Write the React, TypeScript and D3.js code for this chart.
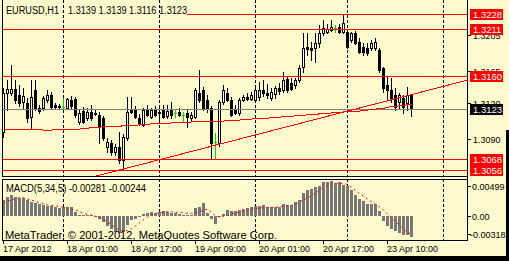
import React from "react";
import * as d3 from "d3";

// ---------- DATA ----------
const symbolTitle = "EURUSD,H1";
const lastQuote = ["1.3139", "1.3139", "1.3116", "1.3123"];

const opens = [
  1.3098, 1.3141, 1.3141, 1.3145, 1.3139, 1.3131, 1.3130, 1.3114, 1.3144, 1.3124,
  1.3124, 1.3133, 1.3139, 1.3128, 1.3125, 1.3125, 1.3124, 1.3133, 1.3134, 1.3109,
  1.3121, 1.3113, 1.3120, 1.3119, 1.3117, 1.3113, 1.3081, 1.3086, 1.3076, 1.3081,
  1.3067, 1.3091, 1.3122, 1.3122, 1.3113, 1.3106, 1.3123, 1.3114, 1.3122, 1.3119,
  1.3122, 1.3116, 1.3122, 1.3119, 1.3120, 1.3117, 1.3119, 1.3113, 1.3114, 1.3141,
  1.3144, 1.3133, 1.3124, 1.3087, 1.3086, 1.3131, 1.3141, 1.3133, 1.3122, 1.3119,
  1.3133, 1.3136, 1.3134, 1.3133, 1.3136, 1.3144, 1.3141, 1.3135, 1.3140, 1.3146,
  1.3144, 1.3156, 1.3152, 1.3150, 1.3155, 1.3170, 1.3192, 1.3191, 1.3191, 1.3196,
  1.3207, 1.3208, 1.3210, 1.3213, 1.3214, 1.3208, 1.3208, 1.3199, 1.3207, 1.3197,
  1.3192, 1.3191, 1.3191, 1.3191, 1.3188, 1.3168, 1.3150, 1.3144, 1.3139, 1.3131,
  1.3135, 1.3130, 1.3139,
];
const highs = [
  1.3146, 1.3155, 1.3172, 1.3155, 1.3150, 1.3146, 1.3135, 1.3155, 1.3155, 1.3128,
  1.3138, 1.3144, 1.3142, 1.3130, 1.3129, 1.3135, 1.3135, 1.3138, 1.3136, 1.3122,
  1.3125, 1.3124, 1.3128, 1.3122, 1.3120, 1.3116, 1.3091, 1.3089, 1.3085, 1.3098,
  1.3096, 1.3136, 1.3136, 1.3127, 1.3118, 1.3124, 1.3128, 1.3124, 1.3127, 1.3124,
  1.3128, 1.3128, 1.3131, 1.3123, 1.3124, 1.3120, 1.3122, 1.3120, 1.3146, 1.3166,
  1.3148, 1.3139, 1.3127, 1.3097, 1.3133, 1.3150, 1.3146, 1.3136, 1.3128, 1.3135,
  1.3139, 1.3141, 1.3142, 1.3150, 1.3153, 1.3155, 1.3151, 1.3146, 1.3149, 1.3152,
  1.3164, 1.3160, 1.3157, 1.3157, 1.3172, 1.3207, 1.3207, 1.3197, 1.3207, 1.3216,
  1.3221, 1.3217, 1.3221, 1.3216, 1.3217, 1.3228, 1.3210, 1.3208, 1.3209, 1.3202,
  1.3196, 1.3196, 1.3199, 1.3202, 1.3191, 1.3170, 1.3159, 1.3157, 1.3146, 1.3141,
  1.3139, 1.3148, 1.3139,
];
const lows = [
  1.3092, 1.3122, 1.3139, 1.3130, 1.3127, 1.3124, 1.3109, 1.3102, 1.3122, 1.3119,
  1.3122, 1.3131, 1.3124, 1.3123, 1.3124, 1.3123, 1.3123, 1.3124, 1.3114, 1.3107,
  1.3108, 1.3111, 1.3111, 1.3117, 1.3086, 1.3089, 1.3076, 1.3073, 1.3073, 1.3064,
  1.3057, 1.3089, 1.3119, 1.3113, 1.3106, 1.3104, 1.3116, 1.3113, 1.3116, 1.3108,
  1.3113, 1.3113, 1.3113, 1.3114, 1.3116, 1.3109, 1.3103, 1.3111, 1.3113, 1.3131,
  1.3122, 1.3120, 1.3068, 1.3069, 1.3082, 1.3129, 1.3132, 1.3116, 1.3118, 1.3117,
  1.3132, 1.3133, 1.3133, 1.3131, 1.3133, 1.3138, 1.3135, 1.3133, 1.3135, 1.3140,
  1.3142, 1.3142, 1.3144, 1.3146, 1.3153, 1.3164, 1.3183, 1.3177, 1.3175, 1.3192,
  1.3205, 1.3207, 1.3209, 1.3208, 1.3207, 1.3207, 1.3191, 1.3197, 1.3195, 1.3185,
  1.3183, 1.3183, 1.3188, 1.3188, 1.3164, 1.3142, 1.3133, 1.3131, 1.3122, 1.3124,
  1.3119, 1.3122, 1.3116,
];
const closes = [
  1.3141, 1.3145, 1.3145, 1.3133, 1.3130, 1.3138, 1.3113, 1.3136, 1.3124, 1.3121,
  1.3135, 1.3139, 1.3125, 1.3125, 1.3127, 1.3125, 1.3134, 1.3127, 1.3117, 1.3119,
  1.3109, 1.3120, 1.3113, 1.3118, 1.3103, 1.3091, 1.3087, 1.3076, 1.3081, 1.3067,
  1.3092, 1.3120, 1.3120, 1.3114, 1.3108, 1.3122, 1.3117, 1.3122, 1.3117, 1.3120,
  1.3114, 1.3121, 1.3117, 1.3119, 1.3117, 1.3117, 1.3114, 1.3117, 1.3144, 1.3133,
  1.3124, 1.3124, 1.3086, 1.3087, 1.3131, 1.3144, 1.3133, 1.3117, 1.3119, 1.3133,
  1.3136, 1.3134, 1.3139, 1.3144, 1.3144, 1.3141, 1.3139, 1.3142, 1.3146, 1.3143,
  1.3155, 1.3144, 1.3145, 1.3155, 1.3168, 1.3191, 1.3189, 1.3188, 1.3196, 1.3207,
  1.3213, 1.3211, 1.3214, 1.3213, 1.3208, 1.3218, 1.3192, 1.3207, 1.3196, 1.3186,
  1.3186, 1.3185, 1.3196, 1.3197, 1.3166, 1.3146, 1.3144, 1.3135, 1.3125, 1.3139,
  1.3125, 1.3139, 1.3123,
];

// red moving average line (price)
const movingAverage = [
  1.3101, 1.3101, 1.3101, 1.3101, 1.3101, 1.3101, 1.3101, 1.3101, 1.3101, 1.3101,
  1.3100, 1.3100, 1.3100, 1.3101, 1.3101, 1.3101, 1.3101, 1.3101, 1.3101, 1.3101,
  1.3102, 1.3102, 1.3103, 1.3103, 1.3103, 1.3104, 1.3104, 1.3104, 1.3104, 1.3104,
  1.3105, 1.3105, 1.3105, 1.3105, 1.3106, 1.3106, 1.3106, 1.3107, 1.3107, 1.3107,
  1.3107, 1.3107, 1.3108, 1.3108, 1.3108, 1.3108, 1.3108, 1.3109, 1.3109, 1.3109,
  1.3109, 1.3109, 1.3110, 1.3110, 1.3110, 1.3110, 1.3111, 1.3111, 1.3111, 1.3111,
  1.3112, 1.3112, 1.3112, 1.3113, 1.3113, 1.3113, 1.3113, 1.3114, 1.3114, 1.3114,
  1.3115, 1.3115, 1.3115, 1.3116, 1.3116, 1.3116, 1.3117, 1.3117, 1.3117, 1.3118,
  1.3118, 1.3118, 1.3119, 1.3119, 1.3119, 1.3120, 1.3120, 1.3121, 1.3121, 1.3121,
  1.3122, 1.3122, 1.3123, 1.3123, 1.3124, 1.3124, 1.3125, 1.3126, 1.3126, 1.3127,
  1.3127, 1.3128, 1.3128,
];

// MACD(5,34,5), in units of 0.001
const macdMain = [
  2.18, 2.64, 2.86, 2.64, 2.41, 2.5, 2.18, 1.86, 1.73, 1.59,
  1.5, 1.41, 1.41, 1.27, 1.14, 1.27, 1.18, 1.18, 0.59, 0.23,
  0.23, 0.14, 0.14, -0.09, -0.32, -0.77, -1.32, -1.68, -2.05, -2.23,
  -2.14, -1.14, -0.55, -0.41, -0.09, 0.36, 0.45, 0.59, 0.5, 0.59,
  0.68, 0.6, 0.5, 0.5, 0.36, 0.23, 0.23, 0.23, 1.05, 1.27,
  1.73, 0.5, -0.32, -1.0, 0.05, 0.36, 0.82, 0.68, 0.68, 0.82,
  0.95, 1.05, 1.18, 1.41, 1.41, 1.5, 1.27, 1.18, 1.27, 1.27,
  1.64, 1.5, 1.5, 1.95, 2.18, 3.09, 3.55, 3.68, 3.86, 4.0,
  4.59, 4.59, 4.68, 4.45, 4.59, 4.23, 4.0, 3.55, 2.86, 2.32,
  2.05, 1.64, 1.59, 1.59, 0.73, -0.64, -1.36, -1.68, -1.91, -2.23,
  -2.5, -2.5, -2.81,
];
const macdSignal = [
  1.75, 2.0, 2.2, 2.35, 2.5, 2.45, 2.3, 2.15, 2.0, 1.75,
  1.65, 1.5, 1.45, 1.4, 1.3, 1.2, 1.1, 0.95, 0.85, 0.6,
  0.4, 0.25, 0.12, 0.0, -0.15, -0.4, -0.75, -1.15, -1.55, -1.85,
  -2.0, -1.9, -1.65, -1.3, -0.9, -0.45, -0.1, 0.15, 0.35, 0.45,
  0.55, 0.6, 0.6, 0.55, 0.5, 0.45, 0.4, 0.4, 0.45, 0.6,
  0.85, 0.95, 0.5, 0.05, -0.1, 0.0, 0.1, 0.3, 0.45, 0.5,
  0.65, 0.75, 0.95, 1.05, 1.12, 1.15, 1.18, 1.18, 1.2, 1.3,
  1.35, 1.38, 1.45, 1.6, 1.95, 2.2, 2.45, 2.75, 3.1, 3.5,
  3.85, 4.1, 4.3, 4.4, 4.45, 4.4, 4.25, 3.9, 3.45, 3.05,
  2.7, 2.3, 1.95, 1.6, 1.25, 0.85, 0.3, -0.2, -0.75, -1.2,
  -1.75, -2.15, -2.44,
];
const macdTitle = "MACD(5,34,5) -0.00281 -0.00244";

// horizontal levels and their anchor bar (where the line starts)
const levelPrices = [1.3228, 1.3211, 1.316, 1.3068, 1.3056];
const levelLabels = ["1.3228", "1.3211", "1.3160", "1.3068", "1.3056"];
const levelStartBars = [46, -2, -2, -2, -2];

// rising trend line anchors (bar, price)
const trendBars = [30, 102];
const trendPrices = [1.3057, 1.3139];

const bidPrice = 1.3123;
const bidLabel = "1.3123";

// axis
const priceScaleRange = [1.30494, 1.32434];
const priceTicks = [1.3205, 1.3165, 1.313, 1.309];
const priceTickLabels = ["1.3205", "1.3165", "1.3120", "1.3090"];
const macdScaleRange = [-0.00318, 0.00499];
const macdTicks = [0.00499, 0, -0.00318];
const macdTickLabels = ["0.00499", "0.00", "-0.00318"];

const timeLabelBars = [0, 16, 32, 48, 64, 80, 96];
const timeLabels = [
  "17 Apr 2012", "18 Apr 01:00", "18 Apr 17:00", "19 Apr 09:00",
  "20 Apr 01:00", "20 Apr 17:00", "23 Apr 10:00",
];
const dayStartBars = [15, 39, 63, 86, 110];
const copyright = "MetaTrader, \u00A9 2001-2012, MetaQuotes Software Corp.";

// ---------- LAYOUT ----------
const W = 509;
const H = 261;
const left = 2;
const right = 467;
const mainBottom = 176;
const macdTop = 179;
const macdBottom = 240;
const BG = "#FFFACD";
const FONT = "'Liberation Sans', Arial, sans-serif";
const RED = "#FF0000";
const DOJI = "#00D800";

export default function App() {
  const x = d3.scaleLinear().domain([0, 102]).range([3, 411]);
  const yP = d3.scaleLinear().domain(priceScaleRange).range([mainBottom, 0]);
  const yM = d3.scaleLinear().domain(macdScaleRange).range([macdBottom, macdTop]);
  const col = (i: number) => Math.round(x(i));
  const ry = (v: number) => Math.round(yP(v));

  const maLine = d3
    .line<number>()
    .x((_, i) => x(i) + 0.5)
    .y((d) => yP(d));
  const sigLine = d3
    .line<number>()
    .x((_, i) => x(i) + 0.5)
    .y((d) => yM(d / 1000));

  const slope = (trendPrices[1] - trendPrices[0]) / (trendBars[1] - trendBars[0]);
  const tAt = (b: number) => trendPrices[0] + slope * (b - trendBars[0]);

  const zeroY = Math.round(yM(0));

  return (
    <svg
      width={W}
      height={H}
      style={{ position: "absolute", left: 0, top: 0, display: "block" }}
      fontFamily={FONT}
    >
      <defs>
        <clipPath id="mainClip">
          <rect x={left + 1} y={0} width={right - left - 1} height={mainBottom} />
        </clipPath>
        <clipPath id="macdClip">
          <rect x={left + 1} y={macdTop + 1} width={right - left - 1} height={macdBottom - macdTop - 1} />
        </clipPath>
      </defs>
      <rect x={0} y={0} width={W} height={H} fill={BG} />

      {/* grid */}
      {dayStartBars.map((b) => {
        const xx = col(b) + 0.5;
        return (
          <g key={"g" + b} stroke="#000" strokeDasharray="3,2" shapeRendering="crispEdges">
            <line x1={xx} x2={xx} y1={0} y2={mainBottom} />
            <line x1={xx} x2={xx} y1={macdTop} y2={macdBottom} />
          </g>
        );
      })}

      {/* candles */}
      <g clipPath="url(#mainClip)" shapeRendering="crispEdges">
        {opens.map((o, i) => {
          const c = closes[i];
          const xc = col(i);
          const yo = ry(o);
          const yc = ry(c);
          const yh = ry(highs[i]);
          const yl = ry(lows[i]);
          if (o === c) {
            return (
              <g key={i} fill={DOJI}>
                <rect x={xc} y={yh} width={1} height={yl - yh + 1} />
                <rect x={xc - 1} y={yo} width={3} height={1} />
              </g>
            );
          }
          const top = Math.min(yo, yc);
          const bot = Math.max(yo, yc);
          return (
            <g key={i}>
              <rect x={xc} y={yh} width={1} height={yl - yh + 1} fill="#000" />
              <rect x={xc - 1} y={top} width={3} height={bot - top + 1} fill="#000" />
              {c > o && bot - top >= 2 && (
                <rect x={xc} y={top + 1} width={1} height={bot - top - 1} fill="#fff" />
              )}
            </g>
          );
        })}
      </g>

      {/* objects */}
      <g clipPath="url(#mainClip)">
        {levelPrices.map((p, k) => (
          <line
            key={"lv" + k}
            x1={Math.max(left, x(levelStartBars[k]))}
            x2={right}
            y1={ry(p) + 0.5}
            y2={ry(p) + 0.5}
            stroke={RED}
            shapeRendering="crispEdges"
          />
        ))}
        <line
          x1={left}
          x2={right}
          y1={ry(bidPrice) + 0.5}
          y2={ry(bidPrice) + 0.5}
          stroke="#808080"
          shapeRendering="crispEdges"
        />
        <path d={maLine(movingAverage) || ""} fill="none" stroke={RED} strokeWidth={1} shapeRendering="crispEdges" />
        <line
          x1={x(0)}
          y1={yP(tAt(0))}
          x2={x(120)}
          y2={yP(tAt(120))}
          stroke={RED}
          strokeWidth={1}
          shapeRendering="crispEdges"
        />
      </g>

      {/* MACD */}
      <g clipPath="url(#macdClip)" shapeRendering="crispEdges">
        {macdMain.map((v, i) => {
          const yv = Math.round(yM(v / 1000));
          const y0 = Math.min(yv, zeroY);
          const h = Math.max(1, Math.abs(yv - zeroY));
          return <rect key={"m" + i} x={col(i) - 1} y={y0} width={3} height={h} fill="#777777" />;
        })}
      </g>
      <path
        d={sigLine(macdSignal) || ""}
        fill="none"
        stroke={RED}
        strokeWidth={1}
        strokeDasharray="2,3"
        clipPath="url(#macdClip)"
      />

      {/* frames */}
      <g stroke="#000" fill="none" shapeRendering="crispEdges">
        <line x1={left + 0.5} x2={left + 0.5} y1={0} y2={mainBottom} />
        <line x1={left} x2={right + 1} y1={mainBottom + 0.5} y2={mainBottom + 0.5} />
        <rect x={left + 0.5} y={macdTop + 0.5} width={right - left} height={macdBottom - macdTop} />
        <line x1={right + 0.5} x2={right + 0.5} y1={0} y2={macdBottom} />
      </g>

      {/* price axis ticks and labels */}
      {priceTicks.map((p, k) => (
        <g key={"pt" + k}>
          <line x1={right} x2={right + 4} y1={ry(p) + 0.5} y2={ry(p) + 0.5} stroke="#000" shapeRendering="crispEdges" />
          <text x={473} y={ry(p) + 3.5} fontSize={9} fill="#000">
            {priceTickLabels[k]}
          </text>
        </g>
      ))}
      {levelPrices.map((p, k) => (
        <g key={"lb" + k}>
          <rect x={470} y={ry(p) - 5} width={33} height={11} fill={RED} />
          <text x={473} y={ry(p) + 4} fontSize={9.5} fill="#fff">
            {levelLabels[k]}
          </text>
        </g>
      ))}
      <rect x={470} y={ry(bidPrice) - 5} width={33} height={11} fill="#000" />
      <text x={473} y={ry(bidPrice) + 4} fontSize={9.5} fill="#fff">
        {bidLabel}
      </text>

      {/* MACD axis */}
      {macdTicks.map((v, k) => {
        const yy = Math.round(Math.min(Math.max(yM(v), macdTop + 7), macdBottom - 6));
        return (
          <g key={"mt" + k}>
            <line x1={right} x2={right + 4} y1={yy + 0.5} y2={yy + 0.5} stroke="#000" shapeRendering="crispEdges" />
            <text x={v < 0 ? 470 : 472} y={yy + 3.5} fontSize={9} fill="#000">
              {macdTickLabels[k]}
            </text>
          </g>
        );
      })}

      {/* time axis */}
      {timeLabelBars.map((b, k) => (
        <g key={"tl" + k}>
          <line x1={col(b) + 0.5} x2={col(b) + 0.5} y1={macdBottom} y2={macdBottom + 4} stroke="#000" shapeRendering="crispEdges" />
          <text x={col(b)} y={252} fontSize={9} fill="#000">
            {timeLabels[k]}
          </text>
        </g>
      ))}

      {/* titles */}
      <text x={6} y={14} fontSize={10} fill="#000" textLength={53} lengthAdjust="spacingAndGlyphs">
        {symbolTitle}
      </text>
      <text x={68} y={14} fontSize={10} fill="#000" textLength={119} lengthAdjust="spacingAndGlyphs">
        {lastQuote.join(" ")}
      </text>
      <text x={6} y={192} fontSize={10} fill="#000" textLength={140} lengthAdjust="spacingAndGlyphs">
        {macdTitle}
      </text>
      <text x={5} y={239} fontSize={11.5} fill="#000" textLength={272} lengthAdjust="spacingAndGlyphs">
        {copyright}
      </text>

      {/* outer dark border */}
      <rect x={0} y={256} width={W} height={H - 256} fill="#000" />
      <rect x={506} y={130} width={3} height={H - 130} fill="#000" />
    </svg>
  );
}
